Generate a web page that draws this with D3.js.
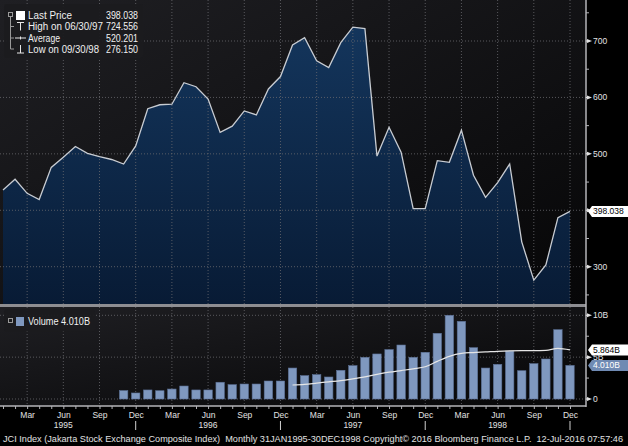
<!DOCTYPE html>
<html>
<head>
<meta charset="utf-8">
<script src="https://cdn.jsdelivr.net/npm/d3@7"></script>
<style>
  html, body { margin: 0; padding: 0; background: #000; }
  svg { display: block; font-family: 'Liberation Sans', Arial, sans-serif; }
  text { white-space: pre; }
</style>
</head>
<body>
<div id="chart"></div>
<script>
// monthly closes, Jan 1995 .. Dec 1998
const months = d3.timeMonth.range(new Date(1995, 0, 1), new Date(1999, 0, 1))
const price = [
  436, 455, 430, 419, 476, 494, 513, 501, 495, 490, 482, 514,
  580, 587, 588, 626, 619, 597, 538, 549, 576, 569, 615, 637,
  693, 706, 665, 653, 697, 724.556, 722, 496, 547, 503, 403, 403,
  488, 485, 542, 462, 423, 449, 482, 344, 276.15, 303, 387, 398.038
]
// volume in billions, none before Nov 1995
const volume = [
  null, null, null, null, null, null, null, null, null, null, 1.0, 0.72,
  1.08, 0.99, 1.19, 1.55, 1.08, 1.08, 2.0, 1.71, 1.79, 1.79, 2.15, 2.15,
  3.7, 2.79, 2.91, 2.63, 3.43, 3.98, 4.98, 5.38, 5.9, 6.45, 4.98, 5.58,
  7.85, 10.0, 9.28, 6.13, 3.7, 4.14, 5.73, 3.38, 4.22, 4.78, 8.28, 4.01
]
const volumeAvg = [
  null, null, null, null, null, null, null, null, null, null, null, null,
  null, null, null, null, null, null, null, null, null, null, null, null,
  1.67, 1.75, 1.9, 2.05, 2.2, 2.4, 2.65, 2.95, 3.2, 3.4, 3.6, 3.85,
  4.5, 5.1, 5.45, 5.55, 5.62, 5.7, 5.75, 5.77, 5.77, 5.8, 6.05, 5.864
]
// 400 sits under the last-price tag, so it is not labelled
const priceTicks = [300, 400, 500, 600, 700]
const priceTickLabels = ['300', '', '500', '600', '700']
const priceMinor = [250, 350, 450, 550, 650, 750]
const volTicks = [0, 5, 10]
const volTickLabels = ['0', '5B', '10B']
const volMinor = [2.5, 7.5]
const legendLabels = ['Last Price', 'High on 06/30/97', 'Average', 'Low on 09/30/98']
const legendValues = ['398.038', '724.556', '520.201', '276.150']
const lastPrice = '398.038'
const lastVolume = '4.010B'
const lastAvgVolume = '5.864B'
const footer = 'JCI Index (Jakarta Stock Exchange Composite Index)  Monthly 31JAN1995-30DEC1998 Copyright\u00a9 2016 Bloomberg Finance L.P.  12-Jul-2016 07:57:46'

const width = 628
const height = 446
const plotRight = 586
const mainBottom = 304
const volTop = 307
const axisY = 406

const svg = d3.select('#chart').append('svg')
  .attr('width', width)
  .attr('height', height)
  .attr('viewBox', [0, 0, width, height])

const x = d3.scaleLinear().domain([0, 47]).range([3, 570])
const y = d3.scaleLinear().domain([300, 700]).range([266.7, 41])
const yVol = d3.scaleLinear().domain([0, 10]).range([399, 315.3])

const defs = svg.append('defs')
const bg = defs.append('linearGradient').attr('id', 'bg')
  .attr('x1', 0).attr('y1', 0).attr('x2', 1).attr('y2', 1)
bg.append('stop').attr('offset', 0).attr('stop-color', '#1f1f23')
bg.append('stop').attr('offset', 1).attr('stop-color', '#060607')
const areaFill = defs.append('linearGradient').attr('id', 'areaFill')
  .attr('gradientUnits', 'userSpaceOnUse')
  .attr('x1', 0).attr('y1', 20).attr('x2', 0).attr('y2', mainBottom)
areaFill.append('stop').attr('offset', 0).attr('stop-color', '#14365d')
areaFill.append('stop').attr('offset', 1).attr('stop-color', '#081b35')

// panel backgrounds
svg.append('rect').attr('width', plotRight).attr('height', mainBottom).attr('fill', 'url(#bg)')
svg.append('rect').attr('y', volTop).attr('width', plotRight).attr('height', axisY - volTop)
  .attr('fill', 'url(#bg)')

const quarters = d3.range(48).filter(i => i % 3 === 2)
const gridStyle = g => g.attr('stroke', '#6a6a6e').attr('stroke-width', 0.8)
  .attr('stroke-dasharray', '1,2')

// price area + line
const area = d3.area().x((d, i) => x(i)).y0(mainBottom).y1(d => y(d))
const line = d3.line().x((d, i) => x(i)).y(d => y(d))
svg.append('path').datum(price).attr('d', area).attr('fill', 'url(#areaFill)')

const grid = svg.append('g')
grid.selectAll('.vx').data(quarters).join('line')
  .attr('x1', d => x(d)).attr('x2', d => x(d))
  .attr('y1', 0).attr('y2', mainBottom).call(gridStyle)
grid.selectAll('.vv').data(quarters).join('line')
  .attr('x1', d => x(d)).attr('x2', d => x(d))
  .attr('y1', volTop).attr('y2', axisY).call(gridStyle)
grid.selectAll('.hy').data(priceTicks).join('line')
  .attr('x1', 0).attr('x2', plotRight)
  .attr('y1', d => y(d)).attr('y2', d => y(d)).call(gridStyle)
grid.selectAll('.hv').data(volTicks).join('line')
  .attr('x1', 0).attr('x2', plotRight)
  .attr('y1', d => yVol(d)).attr('y2', d => yVol(d)).call(gridStyle)

svg.append('path').datum(price).attr('d', line)
  .attr('fill', 'none').attr('stroke', '#c8ccd2').attr('stroke-width', 1.3)

// divider between panels
svg.append('rect').attr('y', mainBottom).attr('width', plotRight).attr('height', 3)
  .attr('fill', '#8e8e92')

// volume bars
const bars = volume.map((v, i) => ({ i, v })).filter(d => d.v != null)
svg.append('g').selectAll('rect').data(bars).join('rect')
  .attr('x', d => x(d.i) - 4.2)
  .attr('width', 8.4)
  .attr('y', d => yVol(d.v))
  .attr('height', d => yVol(0) - yVol(d.v))
  .attr('fill', '#7f98bf')
  .attr('stroke', '#5c7196').attr('stroke-width', 0.6)

const avgLine = d3.line().defined(d => d != null)
  .x((d, i) => x(i)).y(d => yVol(d)).curve(d3.curveMonotoneX)
svg.append('path').datum(volumeAvg).attr('d', avgLine)
  .attr('fill', 'none').attr('stroke', '#e6e6e6').attr('stroke-width', 1.2)

// bottom axis
const fmt = d3.timeFormat('%b')
const xAxis = svg.append('g').attr('transform', `translate(0, ${axisY})`)
  .call(d3.axisBottom(x).tickValues(d3.range(48)).tickSize(3).tickPadding(3)
    .tickFormat(i => (i % 3 === 2 ? fmt(months[i]) : '')))
xAxis.select('.domain').attr('stroke', '#b4b4b8').attr('stroke-width', 1.5)
  .attr('d', `M0,0H${plotRight}`)
xAxis.selectAll('.tick line').attr('stroke', '#b4b4b8')
xAxis.selectAll('text').attr('fill', '#e2e2e2').attr('font-size', 8.5)

const years = quarters.filter(i => i % 12 === 5)
svg.append('g').selectAll('text').data(years).join('text')
  .attr('x', d => x(d)).attr('y', 428).attr('text-anchor', 'middle')
  .attr('fill', '#e2e2e2').attr('font-size', 8.5)
  .text(d => d3.timeFormat('%Y')(months[d]))
svg.append('g').selectAll('line').data(quarters.filter(i => i % 12 === 11)).join('line')
  .attr('x1', d => x(d)).attr('x2', d => x(d))
  .attr('y1', 421).attr('y2', 430).attr('stroke', '#d0d0d0')

// right axes
svg.append('line').attr('x1', plotRight).attr('x2', plotRight)
  .attr('y1', 0).attr('y2', axisY + 1).attr('stroke', '#b4b4b8').attr('stroke-width', 1.5)

function rightAxis(scale, major, minor, labels) {
  const g = svg.append('g')
  g.selectAll('.minor').data(minor).join('line')
    .attr('x1', plotRight).attr('x2', plotRight + 3)
    .attr('y1', d => scale(d)).attr('y2', d => scale(d)).attr('stroke', '#b4b4b8')
  const t = g.selectAll('.major').data(major).join('g')
    .attr('transform', d => `translate(${plotRight}, ${scale(d)})`)
  t.append('path').attr('d', 'M0,-0.5H2L6,0L2,0.5H0Z M1,-2L6,0L1,2Z').attr('fill', '#e0e0e0')
  t.filter((d, i) => labels[i] !== '').append('text').attr('x', 7).attr('dy', '0.35em')
    .attr('fill', '#e2e2e2').attr('font-size', 8.5)
    .text(d => labels[major.indexOf(d)])
}
rightAxis(y, priceTicks, priceMinor, priceTickLabels)
rightAxis(yVol, volTicks, volMinor, volTickLabels)

function tag(cy, label, fill, color) {
  const g = svg.append('g').attr('transform', `translate(${plotRight + 2}, ${cy})`)
  g.append('path').attr('d', 'M0,0L4,-5.5H40V5.5H4Z').attr('fill', fill)
  g.append('text').attr('x', 5).attr('dy', '0.35em')
    .attr('fill', color).attr('font-size', 8.5).text(label)
}
tag(y(price[47]), lastPrice, '#ffffff', '#000000')
tag(yVol(volumeAvg[47]), lastAvgVolume, '#ffffff', '#000000')
tag(yVol(volume[47]), lastVolume, '#6f8ab3', '#ffffff')

// price legend
const legend = svg.append('g')
legend.append('rect').attr('x', 4).attr('y', 4).attr('width', 139).attr('height', 54)
  .attr('rx', 3).attr('fill', '#1b1b1f').attr('opacity', 0.95)
const rowY = [15.5, 26.5, 38, 49]
const labelWidths = [44, 75, 32, 71]
legend.append('rect').attr('x', 8.5).attr('y', 12.5).attr('width', 4).attr('height', 4)
  .attr('fill', 'none').attr('stroke', '#9a9a9a')
legend.append('path')
  .attr('d', `M10.5,17V${rowY[3]} M10.5,${rowY[1]}H14 M10.5,${rowY[2]}H14 M10.5,${rowY[3]}H14`)
  .attr('stroke', '#9a9a9a').attr('fill', 'none')
legend.append('rect').attr('x', 16).attr('y', 11).attr('width', 9).attr('height', 9).attr('fill', '#fff')
legend.append('path')
  .attr('d', `M17,${rowY[1] - 4}H24 M20.5,${rowY[1] - 4}V${rowY[1] + 4}` +
    ` M15,${rowY[2]}H26 M20.5,${rowY[2] - 1.5}V${rowY[2] + 1.5}` +
    ` M17,${rowY[3] + 4}H24 M20.5,${rowY[3] - 4}V${rowY[3] + 4}`)
  .attr('stroke', '#e6e6e6').attr('fill', 'none')
legend.selectAll('.lab').data(legendLabels).join('text')
  .attr('x', 28).attr('y', (d, i) => rowY[i]).attr('dy', '0.35em')
  .attr('fill', '#f0f0f0').attr('font-size', 10)
  .attr('textLength', (d, i) => labelWidths[i]).attr('lengthAdjust', 'spacingAndGlyphs')
  .text(d => d)
legend.selectAll('.val').data(legendValues).join('text')
  .attr('x', 106).attr('y', (d, i) => rowY[i]).attr('dy', '0.35em')
  .attr('fill', '#f0f0f0').attr('font-size', 10)
  .attr('textLength', 32).attr('lengthAdjust', 'spacingAndGlyphs')
  .text(d => d)

// volume legend
const vLegend = svg.append('g')
vLegend.append('rect').attr('x', 4).attr('y', 309.5).attr('width', 91).attr('height', 22)
  .attr('rx', 3).attr('fill', '#1b1b1f').attr('opacity', 0.95)
vLegend.append('rect').attr('x', 8.5).attr('y', 318.5).attr('width', 4).attr('height', 4)
  .attr('fill', 'none').attr('stroke', '#9a9a9a')
vLegend.append('rect').attr('x', 16).attr('y', 317).attr('width', 8).attr('height', 9).attr('fill', '#7f98bf')
vLegend.append('text').attr('x', 28).attr('y', 321.5).attr('dy', '0.35em')
  .attr('fill', '#f0f0f0').attr('font-size', 10)
  .attr('textLength', 62).attr('lengthAdjust', 'spacingAndGlyphs')
  .text('Volume ' + lastVolume)

// footer
svg.append('text').attr('x', 3).attr('y', 442)
  .attr('fill', '#e2e2e2').attr('font-size', 8.5)
  .attr('textLength', 620).attr('lengthAdjust', 'spacingAndGlyphs')
  .text(footer)
</script>
</body>
</html>
